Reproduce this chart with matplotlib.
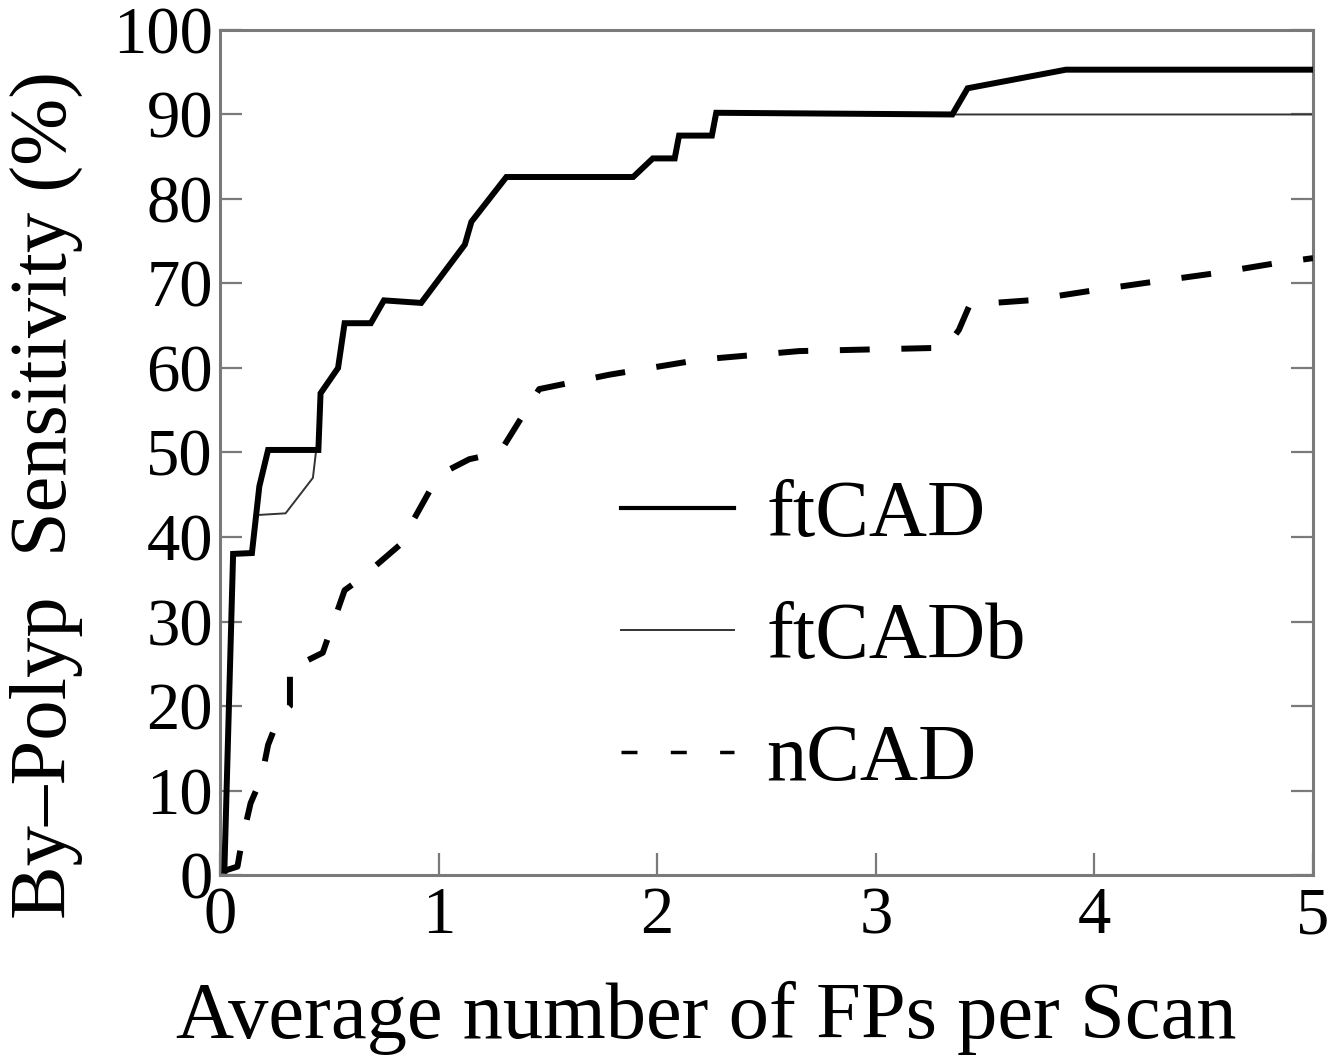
import matplotlib
matplotlib.use("Agg")
import matplotlib.pyplot as plt

plt.rcParams["font.family"] = ["Liberation Serif", "DejaVu Serif"]

# ftCAD curve (FPs per scan, sensitivity %)
ftcad_x = [0.02, 0.06, 0.146, 0.18, 0.22, 0.45, 0.46, 0.54, 0.57, 0.69, 0.75, 0.92,
           1.12, 1.15, 1.31, 1.89, 1.98, 2.08, 2.10, 2.25, 2.27, 3.35, 3.42, 3.87, 5.0]
ftcad_y = [0.5, 38.0, 38.1, 46.0, 50.3, 50.3, 57.0, 60.0, 65.3, 65.3, 68.0, 67.7,
           74.6, 77.3, 82.6, 82.6, 84.8, 84.8, 87.5, 87.5, 90.2, 90.0, 93.1, 95.3, 95.3]

# ftCADb curve
ftcadb_x = [0.02, 0.06, 0.146, 0.17, 0.30, 0.425, 0.44, 0.45, 0.46, 0.54, 0.57, 0.69,
            0.75, 0.92, 1.12, 1.15, 1.31, 1.89, 1.98, 2.08, 2.10, 2.25, 2.27, 3.35, 5.0]
ftcadb_y = [0.5, 38.0, 38.1, 42.6, 42.8, 47.0, 50.3, 50.3, 57.0, 60.0, 65.3, 65.3,
            68.0, 67.7, 74.6, 77.3, 82.6, 82.6, 84.8, 84.8, 87.5, 87.5, 90.2, 90.0, 90.0]

# nCAD curve
ncad_x = [0.02, 0.08, 0.10, 0.14, 0.19, 0.22, 0.27, 0.32, 0.32, 0.36, 0.47, 0.57,
          0.64, 0.82, 0.96, 1.05, 1.14, 1.28, 1.46, 1.78, 2.20, 2.65, 3.32, 3.38,
          3.43, 3.70, 4.00, 4.27, 4.55, 4.83, 5.0]
ncad_y = [0.5, 1.0, 4.0, 8.5, 11.5, 15.4, 18.7, 20.0, 24.9, 24.9, 26.3, 33.7,
          35.0, 39.0, 45.5, 48.0, 49.2, 50.0, 57.5, 59.2, 61.0, 62.0, 62.4, 64.5,
          67.5, 68.0, 69.2, 70.2, 71.2, 72.4, 73.0]

xticks = [0, 1, 2, 3, 4, 5]
yticks = [0, 10, 20, 30, 40, 50, 60, 70, 80, 90, 100]

fig = plt.figure(figsize=(13.39, 10.55), dpi=100)
ax = fig.add_axes([0.1643, 0.1706, 0.8163, 0.8010])

ax.plot(ftcad_x, ftcad_y, color="black", lw=4.3, label="ftCAD", zorder=3,
        solid_joinstyle="miter")
ax.plot(ftcadb_x, ftcadb_y, color="#333333", lw=1.4, label="ftCADb", zorder=2)
ax.plot(ncad_x, ncad_y, color="black", lw=4.3, label="nCAD", zorder=3,
        dashes=(5.0, 5.3), dash_capstyle="butt")

ax.set_xlim(0, 5)
ax.set_ylim(0, 100)
ax.set_xticks(xticks)
ax.set_yticks(yticks)

for s in ax.spines.values():
    s.set_color("#7a7a7a")
    s.set_linewidth(2.2)

ax.tick_params(axis="both", direction="in", length=16, width=1.6, color="#7a7a7a",
               labelsize=48, right=True, top=False)
ax.tick_params(axis="y", pad=5)
ax.tick_params(axis="x", pad=8)

ax.set_xlabel("Average number of FPs per Scan", fontsize=58)
ax.set_ylabel("By\u2013Polyp  Sensitivity (%)", fontsize=58)
ax.xaxis.set_label_coords(0.445, -0.125)
ax.yaxis.set_label_coords(-0.125, 0.45)

leg = ax.legend(loc="center left", bbox_to_anchor=(0.367, 0.28), frameon=False,
                fontsize=58, handlelength=1.4, handletextpad=0.4, labelspacing=0.6,
                borderaxespad=0, borderpad=0)
leg.get_lines()[0].set_linewidth(3)
leg.get_lines()[2].set_linewidth(2.5)
leg.get_lines()[2].set_linestyle((0, (4.6, 9.6)))

fig.savefig("out.png", dpi=100)
